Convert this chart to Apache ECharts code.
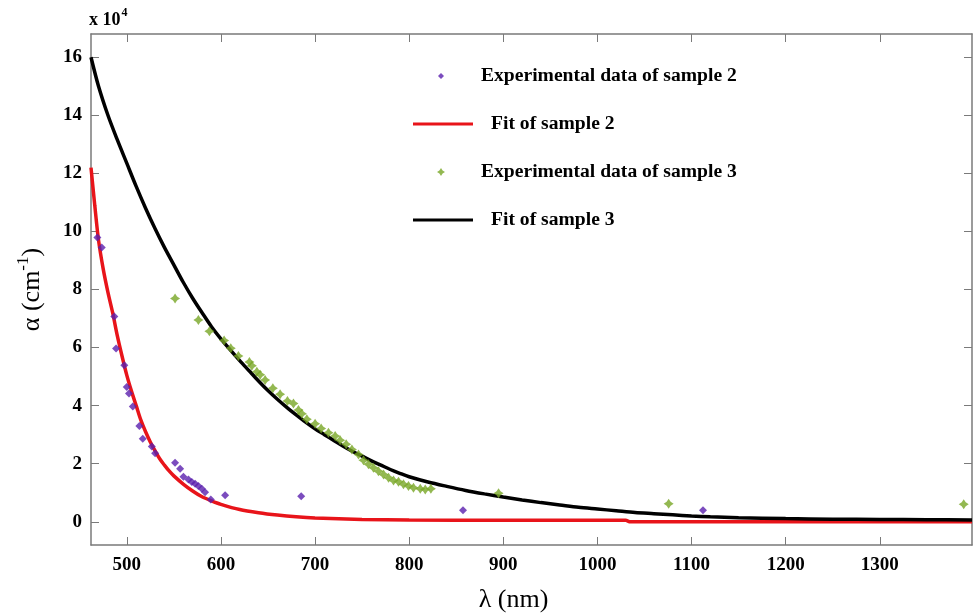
<!DOCTYPE html>
<html>
<head>
<meta charset="utf-8">
<script src="https://cdn.jsdelivr.net/npm/echarts@6/dist/echarts.min.js"></script>
<style>
body{margin:0;background:#fff;}
#charts{width:973px;height:613px;}
</style>
</head>
<body>
<div id="charts"></div>
<script>
// experimental data of sample 2 (alpha in 10^4 cm-1)
var exp2X = [468.8,473.4,486.8,488.6,497.4,500,502.4,506.4,513.4,517,526.6,530.1,551.3,556.7,560.2,565.5,569.1,572.6,576.1,579.7,583.2,589.3,604.5,685.3,857.2,1112.2];
var exp2Y = [9.79,9.45,7.07,5.97,5.39,4.64,4.42,3.97,3.30,2.86,2.59,2.36,2.03,1.83,1.55,1.46,1.37,1.31,1.23,1.14,1.02,0.77,0.91,0.88,0.40,0.40];
// experimental data of sample 3
var exp3X = [551.3,576.1,587.8,603.4,610.5,618.6,630.3,632.9,638.2,641.7,647,655.2,662.9,670.7,677.1,682.4,686,691.3,700.1,706.5,714.3,721.4,726.7,733.1,739.2,746.2,751.5,756.8,762.1,767.4,772.8,778.1,783.4,788.7,794,799.3,804.6,811.8,817.1,823.1,895,1075.7,1389.2];
var exp3Y = [7.69,6.95,6.56,6.24,5.98,5.71,5.5,5.37,5.17,5.06,4.88,4.6,4.39,4.16,4.07,3.85,3.72,3.53,3.38,3.21,3.07,2.95,2.81,2.67,2.49,2.32,2.12,1.98,1.86,1.74,1.63,1.52,1.42,1.38,1.29,1.23,1.17,1.14,1.11,1.14,0.98,0.62,0.60];
// fit of sample 2
var fit2X = [462,466,470,475,480,485,490,495,500,505,510,515,520,525,530,535,540,545,550,560,570,580,590,600,620,640,660,680,700,750,800,900,1000,1030,1035,1100,1200,1300,1398];
var fit2Y = [12.2,10.9,9.7,8.7,7.9,7.2,6.4,5.7,5.05,4.5,4.0,3.5,3.1,2.75,2.45,2.17,1.95,1.75,1.58,1.3,1.06,0.86,0.72,0.6,0.42,0.31,0.23,0.17,0.13,0.08,0.06,0.05,0.05,0.05,0.0,0.0,0.0,0.0,0.0];
// fit of sample 3
var fit3X = [462,470,480,490,500,510,520,530,540,550,560,570,580,590,600,610,620,630,640,650,660,670,680,690,700,710,720,730,740,750,760,770,780,790,800,820,840,860,880,900,920,940,960,980,1000,1020,1040,1060,1080,1100,1120,1150,1200,1250,1300,1350,1398];
var fit3Y = [16.0,15.0,14.0,13.15,12.35,11.55,10.8,10.1,9.45,8.85,8.25,7.7,7.2,6.72,6.3,5.92,5.55,5.2,4.85,4.52,4.22,3.94,3.68,3.43,3.2,3.0,2.8,2.6,2.42,2.26,2.1,1.95,1.8,1.67,1.55,1.37,1.22,1.08,0.96,0.85,0.75,0.66,0.58,0.5,0.44,0.38,0.32,0.28,0.24,0.2,0.17,0.14,0.11,0.09,0.08,0.07,0.06];
// tick labels
var xTicks = [500,600,700,800,900,1000,1100,1200,1300];
var yTicks = [0,2,4,6,8,10,12,14,16];

function zip(a,b){
	var r = [];
	for(var i=0;i<a.length;i++){
		r.push([a[i],b[i]]);
	}
	return r;
}

var serif = "'Liberation Serif','DejaVu Serif',serif";
var axisColor = '#7a7a7a';
var star = 'path://M0,-10 L4,-4 L10,0 L4,4 L0,10 L-4,4 L-10,0 L-4,-4 Z';
var legendText = {fontFamily:serif,fontWeight:'bold',fontSize:19.6,color:'#000'};

function frameAxis(pos,ticks){
	return {
		type:'value',
		min:pos=='top'?462:-0.8,
		max:pos=='top'?1398:16.8,
		position:pos,
		axisLine:{show:true,onZero:false,lineStyle:{color:axisColor,width:1.5}},
		axisTick:{show:true,inside:true,length:8,customValues:ticks,lineStyle:{color:axisColor}},
		axisLabel:{show:false},
		splitLine:{show:false}
	};
}

var charts = echarts.init(document.getElementById('charts'));
var option = {
	animation:false,
	backgroundColor:'#fff',
	grid:{
		left:91,
		right:1,
		top:34,
		bottom:68,
		outerBoundsMode:'none',
		containLabel:false
	},
	graphic:[{
		type:'text',
		left:89,
		top:7,
		style:{
			rich:{
				a:{fontFamily:serif,fontWeight:'bold',fontSize:18,fill:'#000',padding:[9,0,0,0]},
				b:{fontFamily:serif,fontWeight:'bold',fontSize:12,fill:'#000',padding:[0,0,6,1]}
			},
			text:'{a|x 10}{b|4}'
		}
	}],
	legend:[{
		data:['Experimental data of sample 2'],
		left:433,top:61,
		icon:'diamond',itemWidth:6,itemHeight:6,
		textStyle:Object.assign({padding:[0,0,0,32]},legendText)
	},{
		data:['Fit of sample 2'],
		left:408,top:109,
		icon:'rect',itemWidth:60,itemHeight:3,
		textStyle:Object.assign({padding:[0,0,0,13]},legendText)
	},{
		data:['Experimental data of sample 3'],
		left:432,top:157,
		icon:star,itemWidth:8,itemHeight:8,
		textStyle:Object.assign({padding:[0,0,0,31]},legendText)
	},{
		data:['Fit of sample 3'],
		left:408,top:205,
		icon:'rect',itemWidth:60,itemHeight:3,
		textStyle:Object.assign({padding:[0,0,0,13]},legendText)
	}],
	xAxis:[{
		type:'value',
		min:462,
		max:1398,
		position:'bottom',
		name:'λ (nm)',
		nameLocation:'middle',
		nameGap:42,
		nameTextStyle:{fontFamily:serif,fontSize:26,color:'#000',padding:[0,36,0,0]},
		axisLine:{show:true,onZero:false,lineStyle:{color:axisColor,width:1.5}},
		axisTick:{show:true,inside:true,length:8,customValues:xTicks,lineStyle:{color:axisColor}},
		axisLabel:{customValues:xTicks,margin:11,fontFamily:serif,fontWeight:'bold',fontSize:19,color:'#000',
			formatter:function(v){return String(v);}},
		splitLine:{show:false}
	},frameAxis('top',xTicks)],
	yAxis:[{
		type:'value',
		min:-0.8,
		max:16.8,
		position:'left',
		name:'{a|α (cm}{b|-1}{a|)}',
		nameLocation:'middle',
		nameRotate:90,
		nameGap:46,
		nameTextStyle:{
			rich:{
				a:{fontFamily:serif,fontSize:26,color:'#000',padding:[9,0,0,0]},
				b:{fontFamily:serif,fontSize:17,color:'#000',padding:[0,0,8,0]}
			}
		},
		axisLine:{show:true,onZero:false,lineStyle:{color:axisColor,width:1.5}},
		axisTick:{show:true,inside:true,length:8,customValues:yTicks,lineStyle:{color:axisColor}},
		axisLabel:{customValues:yTicks,margin:9,fontFamily:serif,fontWeight:'bold',fontSize:19,color:'#000'},
		splitLine:{show:false}
	},frameAxis('right',yTicks)],
	series:[{
		name:'Fit of sample 2',
		type:'line',
		data:zip(fit2X,fit2Y),
		smooth:0.3,
		showSymbol:false,
		color:'#e8141a',
		lineStyle:{width:3.5,color:'#e8141a'},
		z:3
	},{
		name:'Fit of sample 3',
		type:'line',
		data:zip(fit3X,fit3Y),
		smooth:0.3,
		showSymbol:false,
		color:'#000',
		lineStyle:{width:3.5,color:'#000'},
		z:3
	},{
		name:'Experimental data of sample 2',
		type:'scatter',
		data:zip(exp2X,exp2Y),
		symbol:'diamond',
		symbolSize:8,
		color:'#5a1fae',
		z:4
	},{
		name:'Experimental data of sample 3',
		type:'scatter',
		data:zip(exp3X,exp3Y),
		symbol:star,
		symbolSize:10,
		color:'#78a626',
		z:4
	}]
};
charts.setOption(option);
</script>
</body>
</html>
